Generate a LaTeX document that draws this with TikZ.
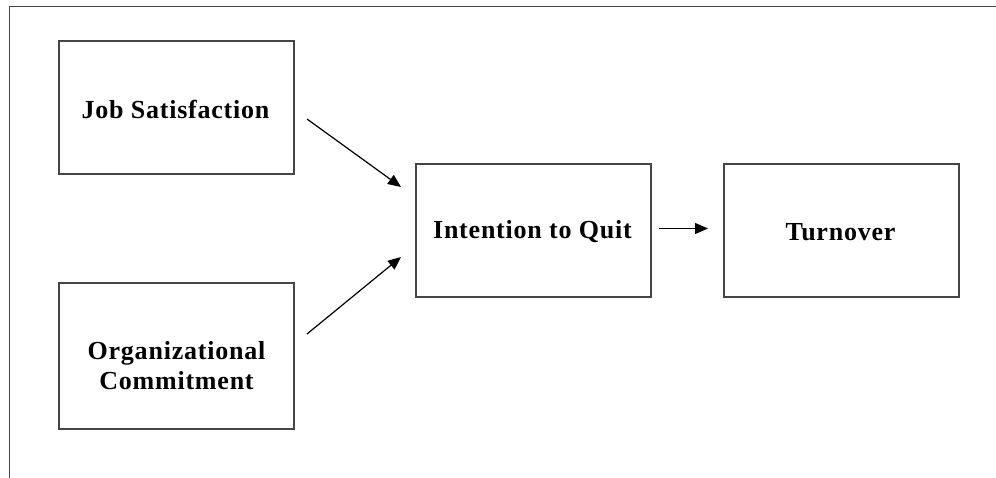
\documentclass[tikz,border=0pt]{standalone}
\usepackage{fontspec}
\setmainfont{Liberation Serif}
\usetikzlibrary{arrows.meta}
\definecolor{linegray}{HTML}{454545}
\newcommand{\boxfont}{\fontsize{26}{30}\selectfont\bfseries\addfontfeature{LetterSpace=3}}
\tikzset{
  box/.style={draw=linegray, line width=1.4pt, minimum width=235pt, minimum height=133pt, inner sep=0pt},
  lbl/.style={font=\boxfont, align=center, inner sep=0pt},
  conn/.style={draw=black, line width=1.2pt, -{Triangle[length=13pt,width=11pt]}},
}
\begin{document}
\begin{tikzpicture}[x=1pt,y=-1pt]
\useasboundingbox (0,0) rectangle (996,478);
\draw[linegray, line width=1.4pt] (9.5,478) -- (9.5,6.5) -- (996,6.5);
\node[box] (job) at (176.5,107.5) {};
\node[lbl] (jobt) at (175.5,109) {Job Satisfaction};
\node[box, minimum height=146pt] (org) at (176.5,356) {};
\node[lbl] (orgt) at (176.5,366) {Organizational\\Commitment};
\node[box] (int) at (533.5,230.5) {};
\node[lbl] (intt) at (532.5,232) {Intention to Quit};
\node[box] (turn) at (841.5,230.5) {};
\node[lbl] (turnt) at (840.5,232) {Turnover};
\coordinate (a1s) at (307,119);
\coordinate (a1e) at (401,187);
\coordinate (a2s) at (307,334);
\coordinate (a2e) at (401,257);
\coordinate (a3s) at (659,228.5);
\coordinate (a3e) at (708,228.5);
\draw[conn] (a1s) -- (a1e);
\draw[conn] (a2s) -- (a2e);
\draw[conn] (a3s) -- (a3e);
\end{tikzpicture}
\end{document}
